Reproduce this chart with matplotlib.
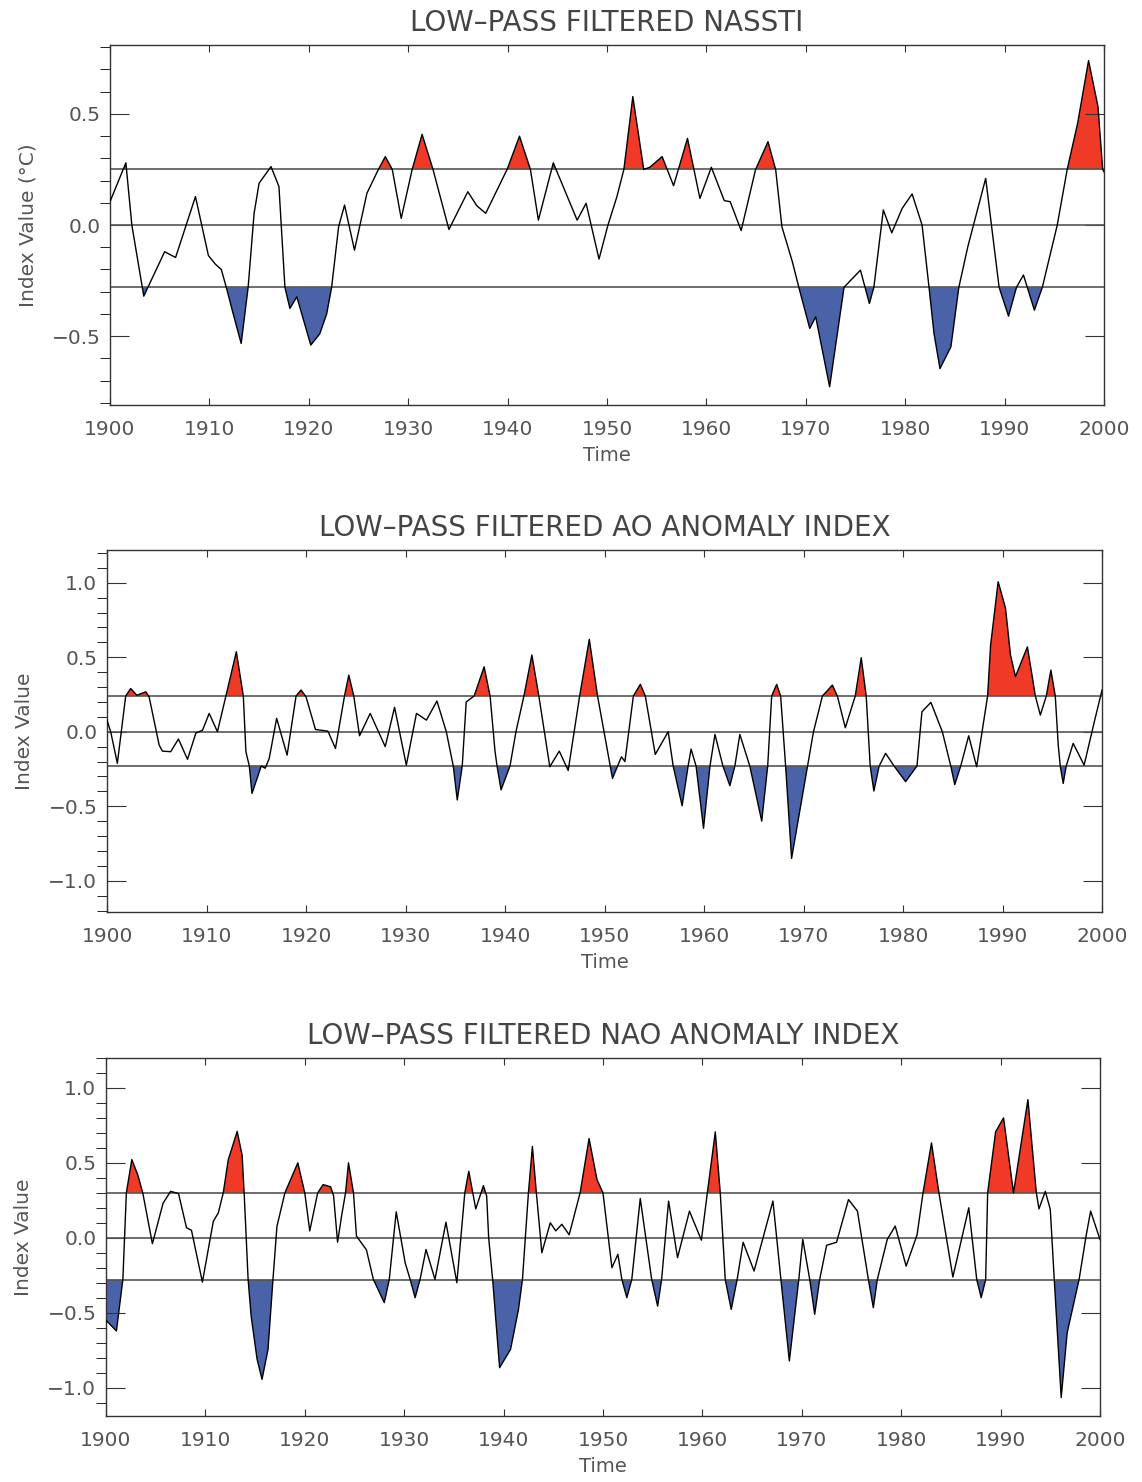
# LOW-PASS FILTERED CLIMATE INDICES (NASSTI, AO, NAO)

import numpy as np
import matplotlib.pyplot as plt
from matplotlib.ticker import MultipleLocator

# NASSTI (deg C)
nassti_year = [1900.0, 1901.6, 1902.2, 1903.4, 1905.5, 1906.6, 1908.6, 1909.9, 1910.6, 1911.2,
               1911.7, 1912.4, 1913.2, 1913.9, 1914.5, 1915.0, 1916.2, 1917.0, 1917.6, 1918.1,
               1918.8, 1920.2, 1921.1, 1921.8, 1922.3, 1923.0, 1923.6, 1924.6, 1925.85, 1927.0,
               1927.7, 1928.4, 1929.3, 1930.4, 1931.4, 1932.5, 1934.1, 1936.0, 1936.9, 1937.8,
               1939.95, 1941.2, 1942.3, 1943.1, 1944.6, 1947.0, 1947.9, 1949.2, 1950.1, 1951.0,
               1951.7, 1952.6, 1953.7, 1954.3, 1955.55, 1956.7, 1958.1, 1959.35, 1960.5, 1961.8,
               1962.4, 1963.5, 1964.95, 1966.2, 1966.97, 1967.6, 1968.65, 1969.3, 1970.4, 1971.0,
               1972.4, 1973.85, 1975.5, 1976.4, 1976.85, 1977.8, 1978.65, 1979.7, 1980.7, 1981.7,
               1982.4, 1982.9, 1983.5, 1984.6, 1985.4, 1986.3, 1988.1, 1989.45, 1990.4, 1991.2,
               1991.9, 1993.0, 1993.8, 1995.3, 1996.3, 1997.35, 1998.45, 1999.4, 1999.87, 2000.0]
nassti_val = [0.105, 0.28, 0.0, -0.32, -0.12, -0.146, 0.128, -0.137, -0.176, -0.20,
              -0.28, -0.40, -0.533, -0.28, 0.053, 0.188, 0.263, 0.173, -0.28, -0.375,
              -0.323, -0.54, -0.49, -0.40, -0.28, -0.008, 0.09, -0.113, 0.143, 0.25,
              0.308, 0.25, 0.03, 0.25, 0.408, 0.25, -0.02, 0.15, 0.087, 0.053,
              0.25, 0.40, 0.25, 0.022, 0.28, 0.022, 0.098, -0.153, 0.0, 0.128,
              0.25, 0.578, 0.25, 0.26, 0.308, 0.177, 0.39, 0.12, 0.26, 0.11,
              0.105, -0.025, 0.25, 0.375, 0.25, -0.008, -0.165, -0.28, -0.465, -0.413,
              -0.728, -0.28, -0.203, -0.353, -0.28, 0.068, -0.035, 0.075, 0.14, 0.0,
              -0.28, -0.488, -0.646, -0.548, -0.28, -0.098, 0.21, -0.28, -0.41, -0.28,
              -0.225, -0.383, -0.28, 0.0, 0.25, 0.458, 0.74, 0.533, 0.25, 0.24]

# AO anomaly index
ao_year = [1900.0, 1900.37, 1901.04, 1901.88, 1902.38, 1903.0, 1903.9, 1904.23, 1905.24, 1905.57,
           1906.4, 1907.18, 1908.09, 1908.93, 1909.6, 1910.27, 1911.1, 1911.95, 1913.0, 1913.7,
           1913.96, 1914.3, 1914.57, 1915.5, 1915.9, 1916.3, 1917.05, 1918.1, 1919.0, 1919.5,
           1920.0, 1920.95, 1922.2, 1922.96, 1923.87, 1924.3, 1924.8, 1925.38, 1926.45, 1927.96,
           1928.9, 1930.08, 1931.1, 1932.1, 1933.16, 1934.1, 1934.8, 1935.2, 1935.7, 1936.1,
           1936.9, 1937.9, 1938.5, 1939.0, 1939.2, 1939.6, 1940.5, 1941.1, 1941.9, 1942.7,
           1943.4, 1944.5, 1945.45, 1946.35, 1947.5, 1948.47, 1949.3, 1950.8, 1951.7, 1952.05,
           1952.9, 1953.6, 1954.1, 1955.1, 1956.4, 1956.9, 1957.8, 1958.4, 1958.7, 1959.2,
           1959.95, 1960.6, 1961.1, 1961.9, 1962.6, 1963.1, 1963.6, 1964.6, 1965.8, 1966.4,
           1966.8, 1967.3, 1967.7, 1968.2, 1968.8, 1970.4, 1971.0, 1971.9, 1972.9, 1973.4,
           1974.2, 1975.2, 1975.8, 1976.3, 1976.7, 1977.07, 1977.6, 1978.25, 1979.1, 1980.26,
           1981.4, 1981.9, 1982.8, 1983.95, 1984.8, 1985.2, 1985.8, 1986.6, 1987.4, 1988.5,
           1988.8, 1989.56, 1990.3, 1990.8, 1991.3, 1992.5, 1993.3, 1993.8, 1994.4, 1994.86,
           1995.3, 1995.6, 1995.8, 1996.1, 1996.4, 1997.1, 1998.2, 1999.2, 2000.0]
ao_val = [0.078, 0.0, -0.212, 0.24, 0.29, 0.245, 0.268, 0.235, -0.089, -0.13,
          -0.134, -0.049, -0.185, -0.009, 0.01, 0.123, 0.0, 0.24, 0.537, 0.24,
          -0.134, -0.23, -0.414, -0.23, -0.245, -0.18, 0.09, -0.157, 0.24, 0.28,
          0.235, 0.015, 0.004, -0.112, 0.24, 0.38, 0.24, -0.027, 0.123, -0.10,
          0.164, -0.224, 0.123, 0.078, 0.206, 0.0, -0.23, -0.458, -0.23, 0.20,
          0.24, 0.436, 0.24, -0.134, -0.23, -0.39, -0.23, 0.0, 0.24, 0.515,
          0.24, -0.235, -0.13, -0.26, 0.24, 0.62, 0.24, -0.313, -0.168, -0.20,
          0.24, 0.318, 0.24, -0.152, 0.0, -0.23, -0.497, -0.23, -0.116, -0.23,
          -0.648, -0.23, -0.018, -0.23, -0.362, -0.23, -0.018, -0.23, -0.60, -0.23,
          0.24, 0.318, 0.24, -0.23, -0.85, -0.23, 0.0, 0.24, 0.313, 0.24,
          0.027, 0.24, 0.497, 0.24, -0.23, -0.398, -0.23, -0.145, -0.23, -0.335,
          -0.23, 0.134, 0.197, 0.0, -0.23, -0.355, -0.23, -0.027, -0.235, 0.24,
          0.58, 1.007, 0.83, 0.515, 0.37, 0.57, 0.24, 0.112, 0.24, 0.414,
          0.24, -0.09, -0.23, -0.347, -0.23, -0.078, -0.224, 0.06, 0.28]

# NAO anomaly index
nao_year = [1900.0, 1901.05, 1901.7, 1902.05, 1902.6, 1903.2, 1903.7, 1904.67, 1905.74, 1906.5,
            1907.3, 1908.1, 1908.6, 1909.7, 1910.8, 1911.3, 1911.8, 1912.3, 1913.2, 1913.7,
            1913.9, 1914.3, 1914.6, 1915.2, 1915.7, 1916.3, 1916.8, 1917.2, 1918.0, 1919.3,
            1920.0, 1920.5, 1921.3, 1921.85, 1922.6, 1922.9, 1923.3, 1923.7, 1924.1, 1924.4,
            1924.9, 1925.2, 1926.2, 1926.9, 1928.0, 1928.5, 1929.2, 1930.1, 1930.6, 1931.1,
            1931.6, 1932.2, 1933.1, 1934.2, 1935.3, 1936.1, 1936.5, 1936.9, 1937.2, 1937.97,
            1938.3, 1938.5, 1938.9, 1939.6, 1940.7, 1941.5, 1941.9, 1942.2, 1942.5, 1942.9,
            1943.3, 1943.85, 1944.7, 1945.25, 1945.86, 1946.6, 1947.7, 1948.6, 1949.4, 1950.0,
            1950.9, 1951.5, 1951.9, 1952.4, 1952.9, 1953.75, 1954.9, 1955.5, 1955.9, 1956.6,
            1957.5, 1958.7, 1959.9, 1960.5, 1961.3, 1961.8, 1962.3, 1962.9, 1963.5, 1964.1,
            1965.2, 1967.1, 1967.9, 1968.75, 1969.7, 1970.1, 1970.8, 1971.3, 1971.8, 1972.5,
            1973.5, 1974.7, 1975.6, 1976.7, 1977.2, 1977.6, 1978.6, 1979.4, 1980.5, 1981.6,
            1982.2, 1983.05, 1983.8, 1985.2, 1986.8, 1987.6, 1988.05, 1988.5, 1988.7, 1989.5,
            1990.3, 1991.3, 1992.75, 1993.6, 1993.86, 1994.5, 1995.0, 1995.4, 1996.1, 1996.7,
            1997.9, 1998.6, 1999.06, 2000.0]
nao_val = [-0.55, -0.622, -0.278, 0.30, 0.522, 0.42, 0.30, -0.04, 0.23, 0.31,
           0.295, 0.067, 0.05, -0.296, 0.11, 0.166, 0.30, 0.52, 0.71, 0.55,
           0.30, -0.278, -0.52, -0.81, -0.945, -0.745, -0.278, 0.076, 0.30, 0.50,
           0.30, 0.046, 0.30, 0.355, 0.34, 0.28, -0.03, 0.144, 0.30, 0.50,
           0.30, 0.011, -0.08, -0.278, -0.433, -0.278, 0.173, -0.167, -0.278, -0.40,
           -0.278, -0.078, -0.278, 0.104, -0.30, 0.30, 0.444, 0.30, 0.193, 0.348,
           0.278, 0.0, -0.278, -0.867, -0.745, -0.478, -0.278, 0.011, 0.30, 0.61,
           0.30, -0.10, 0.10, 0.046, 0.09, 0.02, 0.30, 0.662, 0.388, 0.30,
           -0.20, -0.11, -0.278, -0.40, -0.278, 0.262, -0.278, -0.456, -0.278, 0.245,
           -0.133, 0.178, -0.016, 0.30, 0.707, 0.30, -0.278, -0.478, -0.278, -0.03,
           -0.222, 0.245, -0.278, -0.822, -0.278, -0.011, -0.278, -0.511, -0.278, -0.05,
           -0.03, 0.255, 0.178, -0.278, -0.467, -0.278, -0.011, 0.078, -0.189, 0.02,
           0.30, 0.633, 0.30, -0.262, 0.20, -0.278, -0.40, -0.278, 0.30, 0.707,
           0.80, 0.30, 0.922, 0.30, 0.193, 0.31, 0.19, -0.278, -1.067, -0.633,
           -0.278, 0.011, 0.178, -0.011]

titles = ["LOW\u2013PASS FILTERED NASSTI",
          "LOW\u2013PASS FILTERED AO ANOMALY INDEX",
          "LOW\u2013PASS FILTERED NAO ANOMALY INDEX"]
ylabels = ["Index Value (\u00b0C)", "Index Value", "Index Value"]
upper_thr = [0.25, 0.24, 0.30]
lower_thr = [-0.28, -0.23, -0.28]
ylims = [(-0.81, 0.81), (-1.21, 1.22), (-1.19, 1.20)]
yticks = [[-0.5, 0.0, 0.5], [-1.0, -0.5, 0.0, 0.5, 1.0], [-1.0, -0.5, 0.0, 0.5, 1.0]]

series = [(nassti_year, nassti_val), (ao_year, ao_val), (nao_year, nao_val)]

# axes boxes in figure fraction (left, bottom, width, height)
boxes = [(0.0963, 0.7267, 0.8704, 0.2429),
         (0.0937, 0.3846, 0.8713, 0.2443),
         (0.0928, 0.0445, 0.8704, 0.2416)]

RED = "#ee3a26"
BLUE = "#4a62a8"
TXT = "#555555"

plt.rcParams['font.family'] = ['DejaVu Sans']

fig = plt.figure(figsize=(11.42, 14.82), dpi=100)

for i in range(3):
    ax = fig.add_axes(boxes[i])
    x = np.array(series[i][0])
    y = np.array(series[i][1])
    up, lo = upper_thr[i], lower_thr[i]

    ax.fill_between(x, y, up, where=y >= up, interpolate=True, color=RED, lw=0)
    ax.fill_between(x, y, lo, where=y <= lo, interpolate=True, color=BLUE, lw=0)
    for h in (up, 0.0, lo):
        ax.axhline(h, color="#555555", lw=1.2, zorder=2)
    ax.plot(x, y, color="k", lw=1.0, zorder=3)

    ax.set_xlim(1900, 2000)
    ax.set_ylim(*ylims[i])
    ax.set_xticks(range(1900, 2001, 10))
    ax.set_yticks(yticks[i])
    ax.yaxis.set_major_formatter(plt.FuncFormatter(lambda v, p: "%.1f" % v if v >= 0 else "\u2212%.1f" % -v))
    ax.yaxis.set_minor_locator(MultipleLocator(0.1))

    ax.tick_params(direction="in", top=True, right=True, labelsize=14.5, labelcolor=TXT, color="#333333")
    ax.tick_params(axis="x", length=5, pad=11)
    ax.tick_params(axis="y", which="major", length=14, pad=7)
    ax.tick_params(axis="y", which="minor", length=7)
    for s in ax.spines.values():
        s.set_color("#333333")
        s.set_linewidth(1.0)

    ax.set_title(titles[i], fontsize=20, color="#444444", pad=10)
    ax.set_xlabel("Time", fontsize=14, color=TXT, labelpad=5)
    ax.set_ylabel(ylabels[i], fontsize=14.5, color=TXT, labelpad=10)

fig.savefig("out.png", dpi=100)
